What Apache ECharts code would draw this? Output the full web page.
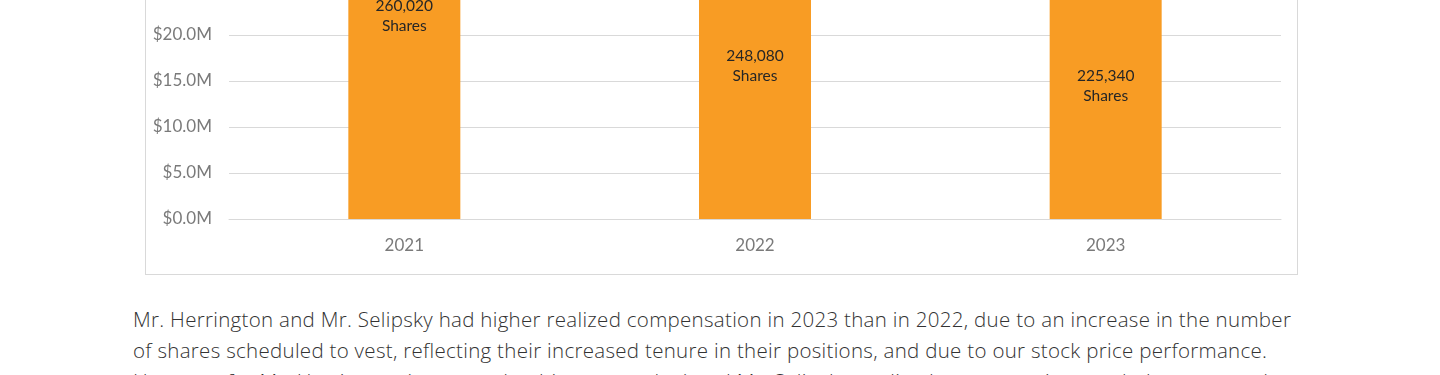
<!DOCTYPE html>
<html>
<head>
<meta charset="utf-8">
<script src="https://cdn.jsdelivr.net/npm/echarts@6/dist/echarts.min.js"></script>
<style>
  html, body { margin: 0; padding: 0; background: #fff; }
  body { width: 1440px; height: 375px; overflow: hidden; position: relative; }
  .frame {
    position: absolute; left: 145px; top: -320px;
    width: 1153px; height: 595px;
    box-sizing: border-box; border: 1px solid #d9d9d9;
  }
  #bar { width: 1151px; height: 593px; }
  .note {
    position: absolute; left: 133px; top: 304px;
    font-family: "Open Sans", sans-serif; font-weight: 300;
    font-size: 20.5px; line-height: 31px; letter-spacing: 0.3px; color: #333;
    white-space: nowrap;
  }
</style>
</head>
<body>
<div class="frame"><div id="bar"></div></div>
<div class="note">
  <div>Mr. Herrington and Mr. Selipsky had higher realized compensation in 2023 than in 2022, due to an increase in the number</div>
  <div>of shares scheduled to vest, reflecting their increased tenure in their positions, and due to our stock price performance.</div>
  <div>However, for Mr. Herrington (compared to his target value) and Mr. Selipsky, realized compensation was below reported</div>
</div>
<script>
// realized value of vested shares, $M
const years = ['2021', '2022', '2023'];
const valueM = [44.1, 33.3, 28.9];
const sharesVested = ['260,020', '248,080', '225,340'];
const yTicks = { min: 0, max: 50, step: 5 };

const chart = echarts.init(document.getElementById('bar'));
chart.setOption({
  animation: false,
  textStyle: { fontFamily: 'Lato, sans-serif' },
  grid: { left: 83, top: 78, height: 460, width: 1052 },
  xAxis: {
    type: 'category',
    data: years,
    axisLine: { lineStyle: { color: '#d9d9d9', width: 1 } },
    axisTick: { show: false },
    axisLabel: { color: '#7a7a7a', fontSize: 17, margin: 18 },
  },
  yAxis: {
    type: 'value',
    min: yTicks.min,
    max: yTicks.max,
    interval: yTicks.step,
    axisLine: { show: false },
    axisTick: { show: false },
    splitLine: { lineStyle: { color: '#d9d9d9', width: 1 } },
    axisLabel: {
      color: '#7a7a7a', fontSize: 17, margin: 17, padding: [4, 0, 0, 0],
      formatter: (v) => '$' + v.toFixed(1) + 'M',
    },
  },
  series: [{
    type: 'bar',
    data: valueM,
    barWidth: 112,
    itemStyle: { color: '#f89c24' },
    label: {
      show: true,
      position: 'inside',
      color: '#262626',
      fontSize: 15.5,
      lineHeight: 20,
      formatter: (p) => sharesVested[p.dataIndex] + '\nShares',
    },
  }],
});
</script>
</body>
</html>
